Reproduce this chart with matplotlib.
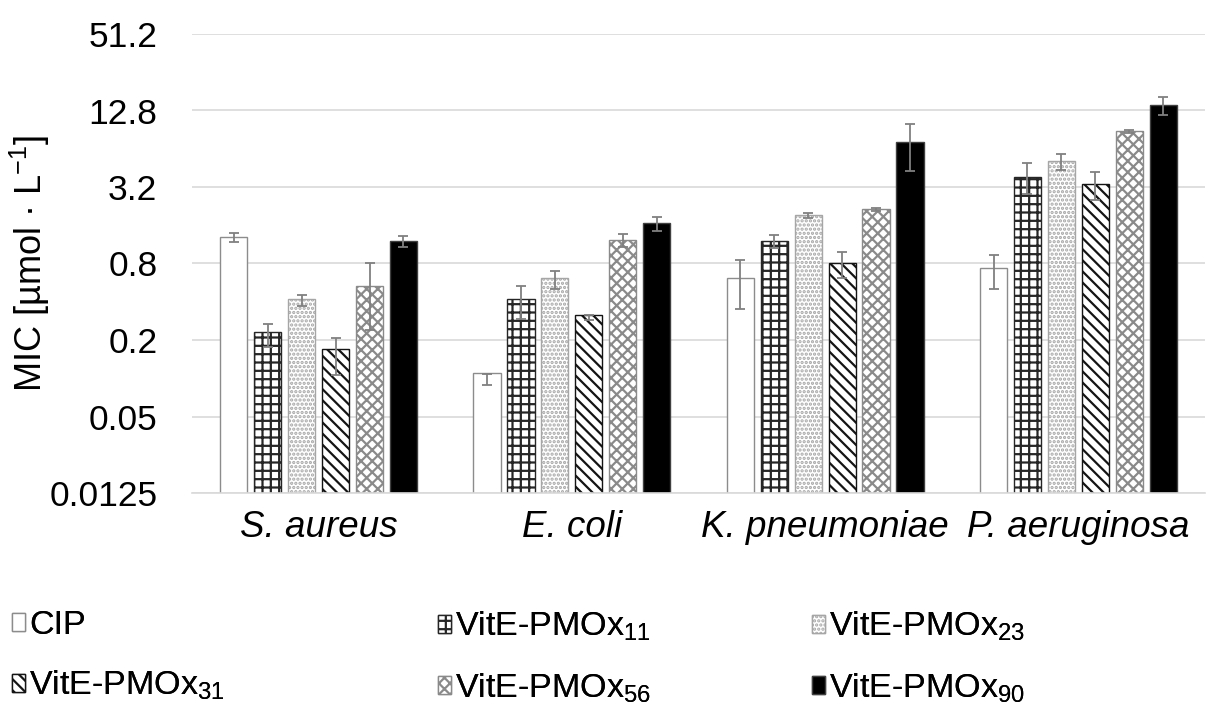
import matplotlib
matplotlib.use("Agg")
import matplotlib.pyplot as plt
import numpy as np
from matplotlib.ticker import FixedLocator, FixedFormatter, NullLocator

plt.rcParams['font.family'] = ['Liberation Sans', 'DejaVu Sans']
plt.rcParams['mathtext.fontset'] = 'custom'
plt.rcParams['mathtext.rm'] = 'Liberation Sans'
plt.rcParams['mathtext.it'] = 'Liberation Sans:italic'
plt.rcParams['hatch.linewidth'] = 1.6

categories = ['S. aureus', 'E. coli', 'K. pneumoniae', 'P. aeruginosa']
series = ['CIP', 'VitE-PMOx$_{\\mathregular{11}}$', 'VitE-PMOx$_{\\mathregular{23}}$',
          'VitE-PMOx$_{\\mathregular{31}}$', 'VitE-PMOx$_{\\mathregular{56}}$',
          'VitE-PMOx$_{\\mathregular{90}}$']

cip = [1.29, 0.098, 0.60, 0.72]
cip_err = [0.10, 0.010, 0.25, 0.22]
v11 = [0.22, 0.41, 1.20, 3.85]
v11_err = [0.045, 0.12, 0.15, 1.05]
v23 = [0.41, 0.60, 1.90, 5.08]
v23_err = [0.04, 0.10, 0.08, 0.70]
v31 = [0.157, 0.30, 0.80, 3.35]
v31_err = [0.05, 0.015, 0.18, 0.84]
v56 = [0.52, 1.22, 2.12, 8.8]
v56_err = [0.28, 0.14, 0.05, 0.25]
v90 = [1.19, 1.65, 7.2, 14.1]
v90_err = [0.12, 0.20, 2.9, 2.3]

values = [cip, v11, v23, v31, v56, v90]
errors = [cip_err, v11_err, v23_err, v31_err, v56_err, v90_err]

yticks = [0.0125, 0.05, 0.2, 0.8, 3.2, 12.8, 51.2]
ytick_labels = ['0.0125', '0.05', '0.2', '0.8', '3.2', '12.8', '51.2']

styles = [
    dict(facecolor='white', edgecolor='#8c8c8c', hatch=None),
    dict(facecolor='white', edgecolor='#262626', hatch='++'),
    dict(facecolor='white', edgecolor='#a6a6a6', hatch='....'),
    dict(facecolor='white', edgecolor='#141414', hatch='\\\\\\'),
    dict(facecolor='white', edgecolor='#8a8a8a', hatch='xxx'),
    dict(facecolor='black', edgecolor='#404040', hatch=None),
]

fig = plt.figure(figsize=(12.06, 7.06), dpi=100)
ax = fig.add_axes([192 / 1206, 1 - 493 / 706, 1013 / 1206, (493 - 34) / 706])

x = np.arange(len(categories))
pitch = 0.134
width = 0.107
handles = []
for i, (vals, errs, st) in enumerate(zip(values, errors, styles)):
    pos = x + (i - 2.5) * pitch
    b = ax.bar(pos, vals, width=width, bottom=0.0125, linewidth=1.0, label=series[i],
               zorder=2, **st)
    ax.errorbar(pos, vals, yerr=errs, fmt='none', ecolor='#808080', elinewidth=1.3,
                capsize=3.5, capthick=1.3, zorder=3)
    handles.append(b)

ax.set_yscale('log')
ax.set_ylim(0.0125, 51.2)
ax.set_xlim(-0.5, len(categories) - 0.5)
ax.yaxis.set_major_locator(FixedLocator(yticks))
ax.yaxis.set_major_formatter(FixedFormatter(ytick_labels))
ax.yaxis.set_minor_locator(NullLocator())
ax.set_xticks(x)
ax.set_xticklabels(categories, fontstyle='italic', fontsize=26.5)
ax.tick_params(axis='y', length=0, pad=25, labelsize=25.5)
ax.tick_params(axis='x', length=0, pad=12)
ax.grid(axis='y', color='#d9d9d9', linewidth=1.2, zorder=0)
ax.set_axisbelow(True)
for s in ['top', 'right', 'left']:
    ax.spines[s].set_visible(False)
ax.spines['bottom'].set_color('#d9d9d9')
ax.spines['bottom'].set_linewidth(1.2)

ax.set_ylabel('MIC [µmol · L$^{\\mathregular{-1}}$]', fontsize=26)
ax.yaxis.set_label_coords(-0.138, 0.5)

cols = [[0, 3], [1, 4], [2, 5]]
col_x = [12, 438, 812]
for cx, idxs in zip(col_x, cols):
    leg = fig.legend([handles[k] for k in idxs], [series[k] for k in idxs],
                     loc='upper left', bbox_to_anchor=(cx / 1206, 1 - 610 / 706),
                     frameon=False, fontsize=24.5, handlelength=0.38, handleheight=0.45,
                     handletextpad=0.12, labelspacing=0.82, borderpad=0, borderaxespad=0)
    fig.add_artist(leg)

fig.savefig('out.png', dpi=100)
